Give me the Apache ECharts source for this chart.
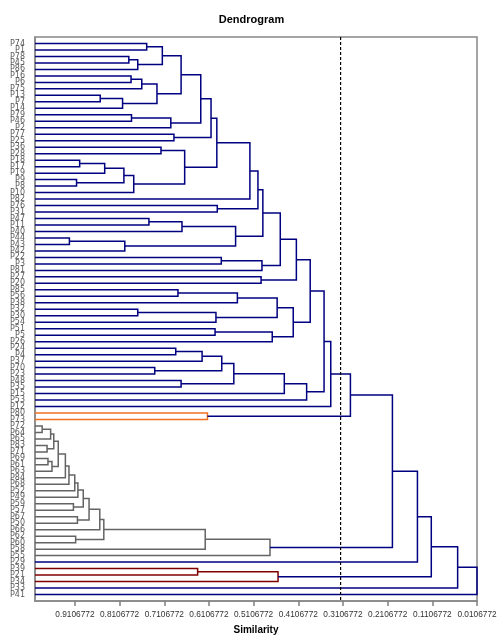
<!DOCTYPE html>
<html>
<head>
<meta charset="utf-8">
<script src="https://cdn.jsdelivr.net/npm/echarts@6/dist/echarts.min.js"></script>
<style>
  html, body { margin: 0; padding: 0; background: #fff; }
  #chart { width: 503px; height: 643px; }
</style>
</head>
<body>
<div id="chart"></div>
<script>
// leaf order, top to bottom
const leaves = ['P74', 'P1', 'P78', 'P45', 'P86', 'P16', 'P6', 'P75', 'P13', 'P7', 'P14', 'P79', 'P46', 'P2',
  'P77', 'P25', 'P36', 'P28', 'P18', 'P17', 'P19', 'P9', 'P8', 'P10', 'P82', 'P76', 'P31', 'P47', 'P11', 'P40',
  'P44', 'P43', 'P42', 'P22', 'P3', 'P81', 'P27', 'P20', 'P85', 'P56', 'P38', 'P32', 'P30', 'P54', 'P51', 'P5',
  'P26', 'P24', 'P4', 'P37', 'P70', 'P23', 'P48', 'P35', 'P15', 'P53', 'P12', 'P80', 'P73', 'P72', 'P64', 'P65',
  'P83', 'P71', 'P69', 'P61', 'P63', 'P84', 'P68', 'P52', 'P49', 'P59', 'P57', 'P67', 'P50', 'P66', 'P62', 'P60',
  'P58', 'P55', 'P29', 'P39', 'P21', 'P34', 'P33', 'P41']

// merges: [id, child a, child b, similarity]
const mergesMain = [
  ['c1', 'P74', 'P1', 0.750], ['c2', 'P78', 'P45', 0.790], ['c3', 'c2', 'P86', 0.770],
  ['c4', 'c1', 'c3', 0.715], ['c5', 'P16', 'P6', 0.785], ['c6', 'c5', 'P75', 0.761],
  ['c7', 'P13', 'P7', 0.854], ['c8', 'c7', 'P14', 0.804], ['c9', 'c6', 'c8', 0.727],
  ['c10', 'c4', 'c9', 0.673], ['c11', 'P79', 'P46', 0.784], ['c12', 'c11', 'P2', 0.696],
  ['c13', 'c10', 'c12', 0.629], ['c14', 'P77', 'P25', 0.689], ['c15', 'c13', 'c14', 0.606],
  ['c16', 'P36', 'P28', 0.718], ['c17', 'P18', 'P17', 0.900], ['c18', 'c17', 'P19', 0.844],
  ['c19', 'P9', 'P8', 0.907], ['c20', 'c18', 'c19', 0.801], ['c21', 'c20', 'P10', 0.779],
  ['c22', 'c16', 'c21', 0.665], ['c23', 'c15', 'c22', 0.593], ['c24', 'c23', 'P82', 0.519],
  ['c25', 'P76', 'P31', 0.592], ['c26', 'c24', 'c25', 0.501], ['c27', 'P47', 'P11', 0.745],
  ['c28', 'c27', 'P40', 0.671], ['c29', 'P44', 'P43', 0.923], ['c30', 'c29', 'P42', 0.799],
  ['c31', 'c28', 'c30', 0.551], ['c32', 'c26', 'c31', 0.490], ['c33', 'P22', 'P3', 0.583],
  ['c34', 'c33', 'P81', 0.492], ['c35', 'c32', 'c34', 0.451], ['c36', 'P27', 'P20', 0.494],
  ['c37', 'c35', 'c36', 0.415], ['c38', 'P85', 'P56', 0.680], ['c39', 'c38', 'P38', 0.547],
  ['c40', 'P32', 'P30', 0.770], ['c41', 'c40', 'P54', 0.595], ['c42', 'c39', 'c41', 0.458],
  ['c43', 'P51', 'P5', 0.597], ['c44', 'c43', 'P26', 0.469], ['c45', 'c42', 'c44', 0.422],
  ['c46', 'c37', 'c45', 0.384], ['c47', 'P24', 'P4', 0.685], ['c48', 'c47', 'P37', 0.626],
  ['c49', 'P70', 'P23', 0.732], ['c50', 'c48', 'c49', 0.582], ['c51', 'P48', 'P35', 0.673],
  ['c52', 'c50', 'c51', 0.555], ['c53', 'c52', 'P15', 0.442], ['c54', 'c53', 'P53', 0.392],
  ['c55', 'c46', 'c54', 0.353], ['c56', 'c55', 'P12', 0.338], ['c57', 'P80', 'P73', 0.614],
  ['c58', 'c56', 'c57', 0.294]
]
const mergesGrey = [
  ['g1', 'P72', 'P64', 0.984], ['g2', 'g1', 'P65', 0.965], ['g3', 'P83', 'P71', 0.973],
  ['g4', 'g2', 'g3', 0.958], ['g5', 'P69', 'P61', 0.971], ['g6', 'g5', 'P63', 0.962],
  ['g7', 'g4', 'g6', 0.948], ['g8', 'g7', 'P84', 0.932], ['g9', 'g8', 'P68', 0.924],
  ['g10', 'g9', 'P52', 0.911], ['g11', 'g10', 'P49', 0.904], ['g12', 'P59', 'P57', 0.914],
  ['g13', 'g11', 'g12', 0.892], ['g14', 'P67', 'P50', 0.905], ['g15', 'g13', 'g14', 0.879],
  ['g16', 'g15', 'P66', 0.855], ['g17', 'P62', 'P60', 0.909], ['g18', 'g16', 'g17', 0.846],
  ['g19', 'g18', 'P58', 0.619], ['g20', 'g19', 'P55', 0.474]
]
const mergesRoot = [
  ['r1', 'c58', 'g20', 0.200], ['r2', 'r1', 'P29', 0.144], ['r3', 'P39', 'P21', 0.636],
  ['r4', 'r3', 'P34', 0.456], ['r5', 'r2', 'r4', 0.113], ['r6', 'r5', 'P33', 0.054],
  ['r7', 'r6', 'P41', 0.0106772]
]

// leaf groups drawn in their own colour
const greyGroup = ['P72', 'P64', 'P65', 'P83', 'P71', 'P69', 'P61', 'P63', 'P84', 'P68', 'P52', 'P49',
  'P59', 'P57', 'P67', 'P50', 'P66', 'P62', 'P60', 'P58', 'P55']
const orangeGroup = ['P80', 'P73']
const redGroup = ['P39', 'P21', 'P34']

const simMin = 0.0106772
const simMax = 1.0
const cutLevel = 0.316
const xTicks = [0.0106772, 0.1106772, 0.2106772, 0.3106772, 0.4106772, 0.5106772, 0.6106772, 0.7106772,
  0.8106772, 0.9106772]

const colors = ['#000080', '#646464', '#f07020', '#800000']
const groups = [greyGroup, orangeGroup, redGroup]

// positions of every node on the axes
let nodes = {}
leaves.forEach(function (name, i) {
  nodes[name] = {sim: simMax, y: i, set: [name]}
})
let links = []
mergesMain.concat(mergesGrey, mergesRoot).forEach(function (m) {
  let a = nodes[m[1]]
  let b = nodes[m[2]]
  let set = a.set.concat(b.set)
  let g = 0
  groups.forEach(function (grp, k) {
    if (set.every(function (n) { return grp.indexOf(n) >= 0 })) g = k + 1
  })
  nodes[m[0]] = {sim: m[3], y: (a.y + b.y) / 2, set: set}
  links.push([m[3], a.y, b.y, a.sim, b.sim, g])
})

const chart = echarts.init(document.getElementById('chart'))
chart.setOption({
  animation: false,
  title: {
    text: 'Dendrogram',
    left: 'center',
    top: 9,
    textStyle: {fontFamily: 'Liberation Sans', fontSize: 11, fontWeight: 'bold', color: '#000'}
  },
  grid: {
    left: 35,
    right: 26,
    top: 37,
    bottom: 42,
    show: true,
    borderColor: '#888',
    borderWidth: 1.5
  },
  xAxis: {
    type: 'value',
    inverse: true,
    min: simMin,
    max: simMax,
    interval: 0.1,
    name: 'Similarity',
    nameLocation: 'middle',
    nameGap: 24,
    nameTextStyle: {fontFamily: 'Liberation Sans', fontSize: 10, fontWeight: 'bold', color: '#000'},
    axisLine: {onZero: false, lineStyle: {color: '#888', width: 1.5}},
    axisTick: {length: 5, customValues: xTicks, lineStyle: {color: '#808080', width: 1.5}},
    splitLine: {show: false},
    axisLabel: {
      margin: 10,
      customValues: xTicks,
      fontFamily: 'Liberation Sans',
      fontSize: 8.3,
      color: '#333',
      formatter: function (v) {
        if (v > 0.95) return ''
        let k = Math.round((v - simMin) / 0.1)
        return (simMin + k * 0.1).toFixed(7)
      }
    }
  },
  yAxis: {
    type: 'value',
    inverse: true,
    min: -1,
    max: leaves.length,
    interval: 1,
    axisLine: {show: true, onZero: false, lineStyle: {color: '#888', width: 1.5}},
    axisTick: {show: false},
    splitLine: {show: false},
    axisLabel: {
      margin: 10,
      fontFamily: 'DejaVu Sans',
      fontSize: 8,
      color: '#5a5a5a',
      formatter: function (v) {
        return leaves[v] || ''
      }
    }
  },
  series: [
    {
      type: 'custom',
      clip: false,
      encode: {x: [0, 3, 4], y: [1, 2]},
      data: links,
      renderItem: function (params, api) {
        let m = api.value(0)
        let p1 = api.coord([api.value(3), api.value(1)])
        let p2 = api.coord([m, api.value(1)])
        let p3 = api.coord([m, api.value(2)])
        let p4 = api.coord([api.value(4), api.value(2)])
        return {
          type: 'polyline',
          shape: {points: [p1, p2, p3, p4]},
          style: {stroke: colors[api.value(5)], lineWidth: 1.5, fill: null}
        }
      }
    },
    {
      type: 'line',
      silent: true,
      symbol: 'none',
      data: [[cutLevel, -1], [cutLevel, leaves.length]],
      lineStyle: {color: '#000', width: 1.2, type: [3, 2]}
    }
  ]
})
</script>
</body>
</html>
